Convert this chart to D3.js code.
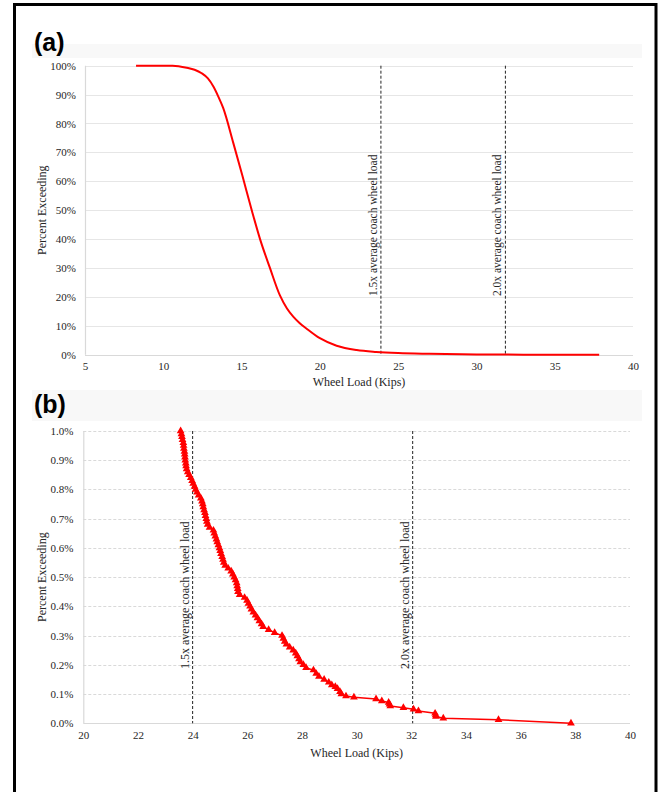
<!DOCTYPE html>
<html>
<head>
<meta charset="utf-8">
<script src="https://cdn.jsdelivr.net/npm/d3@7"></script>
<style>
  html, body { margin: 0; padding: 0; background: #fff; }
  svg { display: block; }
</style>
</head>
<body>
<svg id="chart" width="659" height="792"></svg>
<script>
// ---------- DATA ----------
// Panel (a): exceedance curve (wheel load kips, percent exceeding)
const aLoads   = [8.26, 10.6, 11.5, 12.0, 12.45, 12.85, 13.2, 13.5, 13.83, 14.47, 15.05, 15.65, 16.18, 16.8, 17.45, 17.9, 18.3, 18.7, 19.16, 20.0, 21.07, 22.35, 23.6, 25.0, 27.0, 30.0, 33.0, 37.84];
const aPercent = [100, 100, 99.3, 98.6, 97.4, 95.6, 92.8, 89.5, 85.3, 73.3, 62.0, 50.0, 40.0, 30.2, 20.5, 16.0, 13.2, 11.0, 9.0, 5.7, 3.1, 1.6, 0.95, 0.55, 0.3, 0.09, 0.02, 0.0];
const aXTicks = [5, 10, 15, 20, 25, 30, 35, 40];
const aYTicks = [0, 10, 20, 30, 40, 50, 60, 70, 80, 90, 100];
const aRefLines = [23.9, 31.85];

// Panel (b): tail of exceedance (percent)
const bLoads = [23.56, 23.59, 23.61, 23.63, 23.66, 23.67, 23.68, 23.70, 23.71, 23.72, 23.73, 23.75, 23.76, 23.78, 23.82, 23.87, 23.93, 23.98, 24.02, 24.07, 24.11, 24.16, 24.22, 24.30, 24.34, 24.37, 24.39, 24.42, 24.45, 24.47, 24.50, 24.52, 24.55, 24.62, 24.76, 24.79, 24.83, 24.87, 24.90, 24.94, 24.98, 25.01, 25.04, 25.08, 25.11, 25.14, 25.19, 25.30, 25.41, 25.47, 25.52, 25.57, 25.61, 25.63, 25.65, 25.66, 25.72, 25.90, 25.99, 26.04, 26.10, 26.15, 26.22, 26.30, 26.37, 26.44, 26.52, 26.58, 26.78, 27.00, 27.27, 27.32, 27.37, 27.43, 27.55, 27.68, 27.77, 27.83, 27.89, 27.94, 28.05, 28.15, 28.42, 28.52, 28.62, 28.81, 28.98, 29.09, 29.22, 29.30, 29.39, 29.44, 29.61, 29.90, 30.71, 30.92, 31.17, 31.20, 31.23, 31.71, 32.08, 32.26, 32.87, 32.89, 32.90, 33.17, 35.19, 37.84];
const bPercent = [1.00, 0.99, 0.98, 0.97, 0.96, 0.95, 0.94, 0.93, 0.92, 0.91, 0.90, 0.89, 0.88, 0.87, 0.86, 0.85, 0.84, 0.83, 0.82, 0.81, 0.80, 0.79, 0.78, 0.77, 0.76, 0.75, 0.74, 0.73, 0.72, 0.71, 0.70, 0.69, 0.68, 0.67, 0.66, 0.65, 0.64, 0.63, 0.62, 0.61, 0.60, 0.59, 0.58, 0.57, 0.56, 0.55, 0.54, 0.53, 0.52, 0.51, 0.50, 0.49, 0.48, 0.47, 0.46, 0.45, 0.44, 0.43, 0.42, 0.41, 0.40, 0.39, 0.38, 0.37, 0.36, 0.35, 0.34, 0.33, 0.32, 0.31, 0.30, 0.29, 0.28, 0.27, 0.26, 0.25, 0.24, 0.23, 0.22, 0.21, 0.20, 0.19, 0.182, 0.17, 0.16, 0.15, 0.14, 0.131, 0.125, 0.118, 0.108, 0.100, 0.093, 0.089, 0.083, 0.076, 0.071, 0.065, 0.059, 0.053, 0.048, 0.042, 0.034, 0.028, 0.023, 0.017, 0.012, 0.000];
const bXTicks = [20, 22, 24, 26, 28, 30, 32, 34, 36, 38, 40];
const bYTicks = [0.0, 0.1, 0.2, 0.3, 0.4, 0.5, 0.6, 0.7, 0.8, 0.9, 1.0];
const bRefLines = [24, 32.05];

const refLabels = ["1.5x average coach wheel load", "2.0x average coach wheel load"];
const xTitle = "Wheel Load (Kips)";
const yTitle = "Percent Exceeding";

// ---------- DRAW ----------
const svg = d3.select("#chart");
const serif = 'Liberation Serif, DejaVu Serif, serif';
const sans = 'Liberation Sans, Arial, sans-serif';
const txt = "#262626";

// outer border
svg.append("rect").attr("x", 14.5).attr("y", 4.5).attr("width", 641.5).attr("height", 800)
  .attr("fill", "none").attr("stroke", "#000").attr("stroke-width", 3);

function panel(cfg) {
  const g = svg.append("g");
  // faint header band
  g.append("rect").attr("x", 32).attr("y", cfg.bandY).attr("width", 610).attr("height", cfg.bandH).attr("fill", "#f8f8f8");
  g.append("text").attr("x", 34).attr("y", cfg.labelY).text(cfg.label)
    .style("font-family", sans).attr("font-weight", "bold").attr("font-size", 25).attr("fill", "#000");

  const x = d3.scaleLinear().domain(cfg.xDomain).range(cfg.xRange);
  const y = d3.scaleLinear().domain(cfg.yDomain).range(cfg.yRange);

  // gridlines
  g.append("g").selectAll("line").data(cfg.yTicks.filter(t => t !== cfg.yDomain[0])).join("line")
    .attr("x1", cfg.xRange[0]).attr("x2", cfg.xRange[1])
    .attr("y1", d => Math.round(y(d)) + 0.5).attr("y2", d => Math.round(y(d)) + 0.5)
    .attr("stroke", cfg.gridDash ? "#d9d9d9" : "#e6e6e6").attr("stroke-width", 1)
    .attr("stroke-dasharray", cfg.gridDash ? "3,2" : null);

  // axis lines
  g.append("line").attr("x1", cfg.xRange[0]).attr("x2", cfg.xRange[1])
    .attr("y1", Math.round(y(cfg.yDomain[0])) + 0.5).attr("y2", Math.round(y(cfg.yDomain[0])) + 0.5)
    .attr("stroke", "#d9d9d9").attr("stroke-width", 1.2);
  g.append("line").attr("x1", cfg.xRange[0] + 0.5).attr("x2", cfg.xRange[0] + 0.5)
    .attr("y1", cfg.yRange[0]).attr("y2", cfg.yRange[1])
    .attr("stroke", "#d9d9d9").attr("stroke-width", 1.2);

  // tick labels via d3 axes
  const xAxis = d3.axisBottom(x).tickValues(cfg.xTicks).tickSize(0).tickPadding(8).tickFormat(d3.format("d"));
  const yAxis = d3.axisLeft(y).tickValues(cfg.yTicks).tickSize(0).tickPadding(cfg.yPad).tickFormat(cfg.yFmt);
  const gx = g.append("g").attr("transform", `translate(0,${y(cfg.yDomain[0])})`).call(xAxis);
  const gy = g.append("g").attr("transform", `translate(${cfg.xRange[0]},0)`).call(yAxis);
  [gx, gy].forEach(a => {
    a.select(".domain").remove();
    a.attr("font-family", null).attr("font-size", null);
    a.selectAll("text").style("font-family", serif).style("font-size", "11px").attr("fill", txt);
  });

  // reference lines
  cfg.refs.forEach((r, i) => {
    g.append("line").attr("x1", x(r)).attr("x2", x(r)).attr("y1", cfg.yRange[1]).attr("y2", cfg.yRange[0])
      .attr("stroke", "#222").attr("stroke-width", 1).attr("stroke-dasharray", "3,2");
    g.append("text").attr("transform", `translate(${x(r) - 4},${cfg.refLabelY}) rotate(-90)`)
      .text(refLabels[i]).style("font-family", serif).style("font-size", cfg.refFont + "px").attr("fill", txt);
  });

  // data
  const pts = cfg.xs.map((v, i) => [v, cfg.ys[i]]);
  const line = d3.line().x(d => x(d[0])).y(d => y(d[1])).curve(cfg.curve);
  g.append("path").datum(pts).attr("d", line).attr("fill", "none").attr("stroke", "#ff0000")
    .attr("stroke-width", cfg.lineW).attr("stroke-linejoin", "round");
  if (cfg.markers) {
    const tri = d3.symbol().type(d3.symbolTriangle).size(26);
    g.append("g").selectAll("path").data(pts).join("path")
      .attr("transform", d => `translate(${x(d[0])},${y(d[1])})`).attr("d", tri).attr("fill", "#ff0000");
  }

  // titles
  g.append("text").attr("x", (cfg.xRange[0] + cfg.xRange[1]) / 2).attr("y", cfg.xTitleY)
    .attr("text-anchor", "middle").text(xTitle)
    .style("font-family", serif).style("font-size", "12px").attr("fill", txt);
  g.append("text").attr("transform", `translate(46,${(cfg.yRange[0] + cfg.yRange[1]) / 2}) rotate(-90)`)
    .attr("text-anchor", "middle").text(yTitle)
    .style("font-family", serif).style("font-size", "12px").attr("fill", txt);
}

panel({
  label: "(a)", labelY: 51, bandY: 44, bandH: 14,
  xDomain: [5, 40], xRange: [85, 633], yDomain: [0, 100], yRange: [354.7, 65.7],
  xTicks: aXTicks, yTicks: aYTicks, yFmt: d => d + "%", yPad: 9, gridDash: false,
  refs: aRefLines, refLabelY: 296, refFont: 11.5,
  xs: aLoads, ys: aPercent, curve: d3.curveMonotoneX, lineW: 2, markers: false,
  xTitleY: 386
});

panel({
  label: "(b)", labelY: 413, bandY: 390, bandH: 31,
  xDomain: [20, 40], xRange: [83.3, 630], yDomain: [0, 1.0], yRange: [723.3, 431],
  xTicks: bXTicks, yTicks: bYTicks, yFmt: d => d.toFixed(1) + "%", yPad: 10, gridDash: true,
  refs: bRefLines, refLabelY: 669, refFont: 12,
  xs: bLoads, ys: bPercent, curve: d3.curveLinear, lineW: 1.5, markers: true,
  xTitleY: 757
});
</script>
</body>
</html>
